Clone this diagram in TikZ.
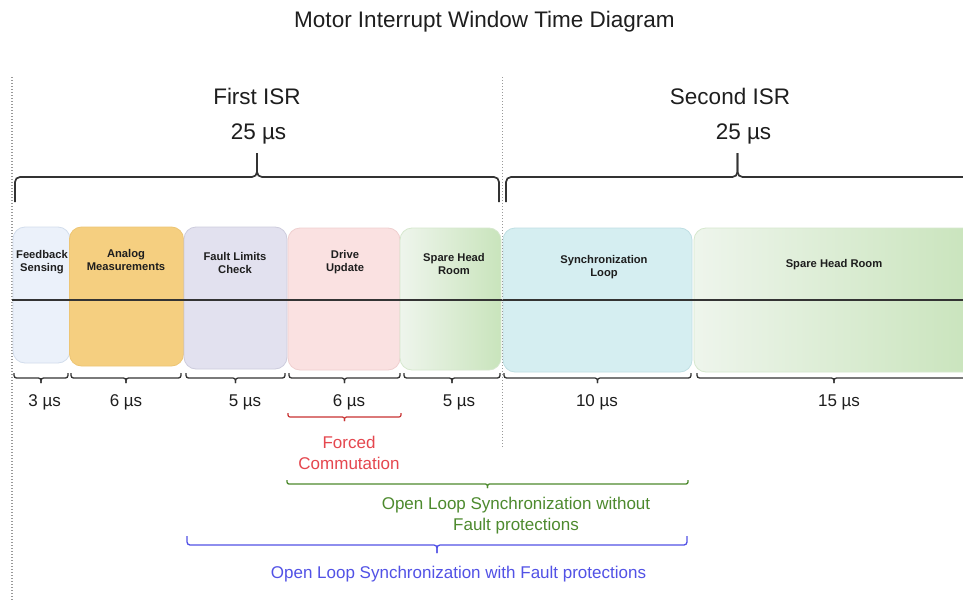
\documentclass[tikz,border=0pt]{standalone}
\usepackage{fontspec}
\setmainfont{Liberation Sans}
\definecolor{txt}{HTML}{1E1E1E}
\definecolor{lineC}{HTML}{333333}
\definecolor{fbF}{HTML}{EBF1FA}\definecolor{fbD}{HTML}{D2DDEC}
\definecolor{amF}{HTML}{F5CF80}\definecolor{amD}{HTML}{EDC574}
\definecolor{flF}{HTML}{E2E1EF}\definecolor{flD}{HTML}{CDCCDD}
\definecolor{duF}{HTML}{FAE1E1}\definecolor{duD}{HTML}{EFCFCF}
\definecolor{spL}{HTML}{EEF5EC}\definecolor{spR}{HTML}{C9E4BC}\definecolor{spD}{HTML}{D6E8CE}
\definecolor{slF}{HTML}{D5EEF1}\definecolor{slD}{HTML}{BFDFE3}
\definecolor{redB}{HTML}{C83232}\definecolor{redT}{HTML}{E5474F}
\definecolor{grnC}{HTML}{4D8A2E}
\definecolor{bluC}{HTML}{5252E6}
\newcommand{\crlyb}[6]{%
  \draw[#1] (#2,#4) -- (#2,#5) -- ({(#2+#3)/2},#5) -- ({(#2+#3)/2},#6);
  \draw[#1] (#3,#4) -- (#3,#5) -- ({(#2+#3)/2},#5) -- ({(#2+#3)/2},#6);}
\tikzset{
  box/.style={rounded corners=12, inner sep=0pt, line width=0.8pt},
  blabel/.style={font=\bfseries\fontsize{11.2}{13}\selectfont, align=center, text=txt, inner sep=0pt},
  big/.style={font=\fontsize{22.5}{27}\selectfont, text=txt, inner sep=0pt, anchor=base},
  mid/.style={font=\fontsize{17}{20.5}\selectfont, text=txt, inner sep=0pt},
  topbrace/.style={line width=1.7pt, draw=lineC, rounded corners=5},
  botbrace/.style={line width=1.3pt, draw=lineC, rounded corners=2.5},
  dots/.style={draw=black!40, line width=1.1pt, dash pattern=on 1pt off 2pt},
}
\begin{document}
\begin{tikzpicture}[x=1pt,y=-1pt]
\useasboundingbox (0,0) rectangle (963,610);
\clip (0,0) rectangle (963,610);
\fill[white] (0,0) rectangle (963,610);

% title
\node[big] (title) at (484.5,28) {Motor Interrupt Window Time Diagram};

% dotted separators
\draw[dots] (12,77) coordinate (d1a) -- (12,600) coordinate (d1b);

% ISR headers
\node[big] (isr1) at (257,104) {First ISR};
\node[big] (t1) at (258.5,139) {25 µs};
\node[big] (isr2) at (730,104) {Second ISR};
\node[big] (t2) at (743.5,139) {25 µs};

% top braces
\crlyb{topbrace}{15}{499}{202}{177}{153}
\crlyb{topbrace}{506}{969}{202}{177}{153}

% boxes
\node[box, draw=fbD, fill=fbF, minimum width=57pt, minimum height=136pt] (fb) at (41.5,295) {};
\node[box, draw=amD, fill=amF, minimum width=114pt, minimum height=139pt] (am) at (126.5,296.5) {};
\node[box, draw=flD, fill=flF, minimum width=103pt, minimum height=142pt] (fl) at (235.5,298) {};
\node[box, draw=duD, fill=duF, minimum width=112pt, minimum height=142pt] (du) at (344,299) {};
\node[box, draw=spD, left color=spL, right color=spR, minimum width=101pt, minimum height=142pt] (sp1) at (450.5,299) {};
\node[box, draw=slD, fill=slF, minimum width=189pt, minimum height=144pt] (sl) at (597.5,300) {};
\node[box, draw=spD, left color=spL, right color=spR, minimum width=281pt, minimum height=144pt] (sp2) at (834.5,300) {};

% box labels
\node[blabel] (fbl) at (42,262.5) {Feedback\\Sensing};
\node[blabel] (aml) at (126,259.5) {Analog\\Measurements};
\node[blabel] (fll) at (235,262.5) {Fault Limits\\Check};
\node[blabel] (dul) at (345,262.5) {Drive\\Update};
\node[blabel] (sp1l) at (454,264) {Spare Head\\Room};
\node[blabel] (sll) at (604,267.5) {Synchronization\\Loop};
\node[blabel] (sp2l) at (834,265) {Spare Head Room};

% time axis
\draw[line width=1.4pt, draw=lineC] (12,300) coordinate (axL) -- (963,300) coordinate (axR);
\draw[dots] (502.5,77) coordinate (d2a) -- (502.5,448) coordinate (d2b);

% bottom braces
\crlyb{botbrace}{14}{68}{373}{378}{383}
\crlyb{botbrace}{71}{181}{373}{378}{383}
\crlyb{botbrace}{186}{285}{373}{378}{383}
\crlyb{botbrace}{289}{400}{373}{378}{383}
\crlyb{botbrace}{404}{500}{373}{378}{383}
\crlyb{botbrace}{504}{691}{373}{378}{383}
\crlyb{botbrace}{697}{971}{373}{378}{383}

% durations
\node[mid, anchor=base] (u1) at (44.7,406) {3 µs};
\node[mid, anchor=base] (u2) at (126,406) {6 µs};
\node[mid, anchor=base] (u3) at (245,406) {5 µs};
\node[mid, anchor=base] (u4) at (349,406) {6 µs};
\node[mid, anchor=base] (u5) at (459,406) {5 µs};
\node[mid, anchor=base] (u6) at (597,406) {10 µs};
\node[mid, anchor=base] (u7) at (839,406) {15 µs};

% forced commutation
\crlyb{line width=1.2pt, draw=redB, rounded corners=2}{288}{401}{413}{417}{421}
\node[mid, text=redT, align=center] (fc) at (349,453) {Forced\\Commutation};

% open loop without fault protections
\crlyb{line width=1.3pt, draw=grnC, rounded corners=2}{287}{688}{480}{484}{488}
\node[mid, text=grnC, align=center] (olw) at (516,515.5) {Open Loop Synchronization without\\Fault protections};

% open loop with fault protections
\crlyb{line width=1.3pt, draw=bluC, rounded corners=3}{187}{687}{536}{545}{553}
\node[mid, text=bluC, anchor=base] (olf) at (458.5,578) {Open Loop Synchronization with Fault protections};
\end{tikzpicture}
\end{document}
